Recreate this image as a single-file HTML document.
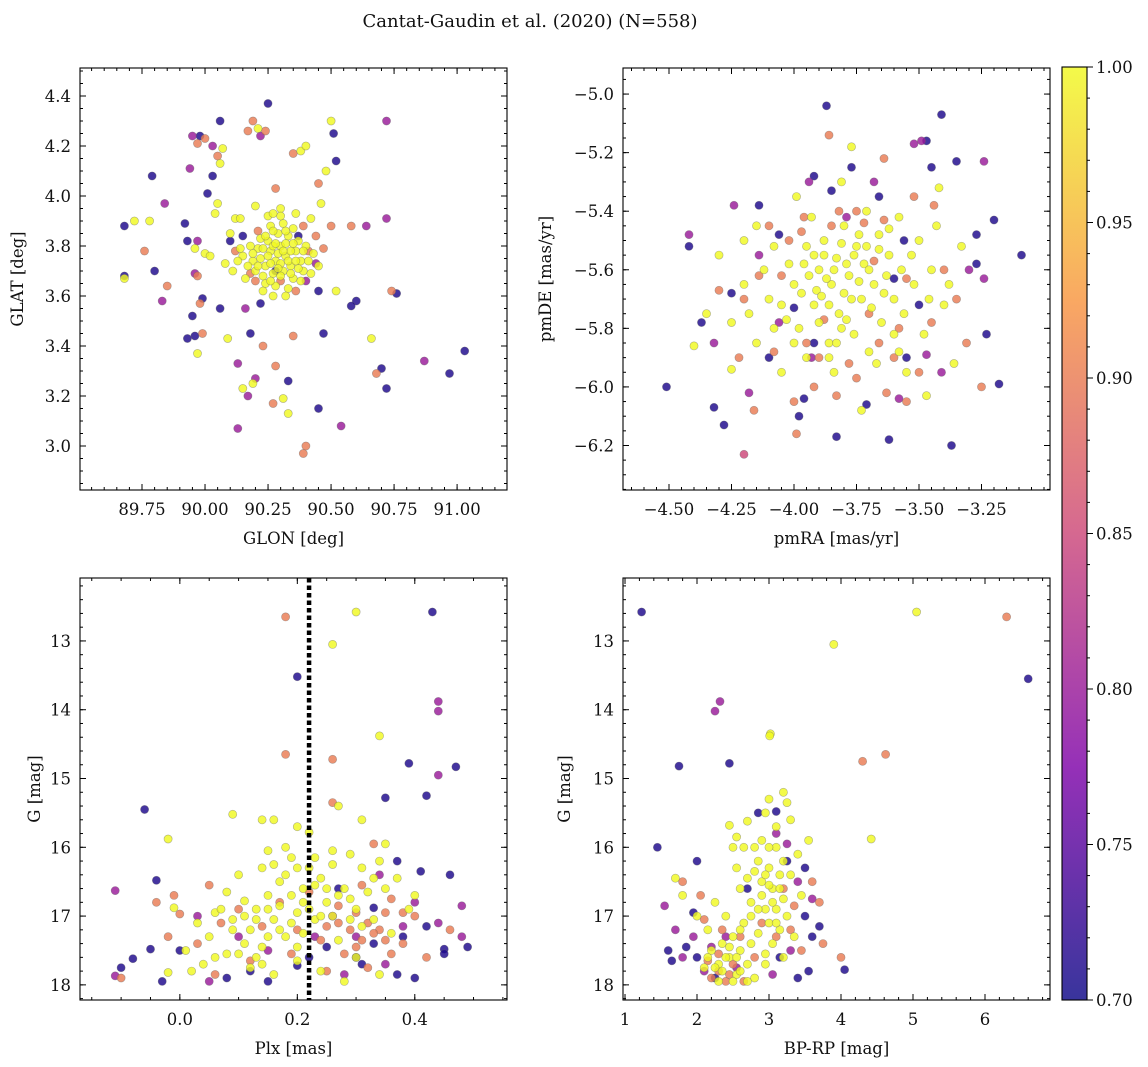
<!DOCTYPE html>
<html><head><meta charset="utf-8"><style>
body{margin:0;background:#fff;}
svg{display:block;font-family:"DejaVu Serif","Liberation Serif",serif;}
</style></head><body>
<svg id="fig" width="1148" height="1067" xmlns="http://www.w3.org/2000/svg">
<rect width="1148" height="1067" fill="#fff"/>
<text x="530" y="27" font-size="18" text-anchor="middle" fill="#111">Cantat-Gaudin et al. (2020) (N=558)</text>
</svg>
<script>
// ---- data: [x, y, membership probability] ----
const glonGlatProb = [
[89.68,3.88,0.71],[89.68,3.68,0.71],[89.79,4.08,0.71],[89.92,3.89,0.71],[89.93,3.82,0.71],[89.95,3.52,0.71],[89.96,3.44,0.71],[89.98,4.24,0.71],[90.06,4.30,0.71],[90.01,4.01,0.71],[90.03,4.08,0.71],[90.25,4.37,0.71],[90.51,4.25,0.71],[90.52,4.14,0.71],[90.60,3.58,0.71],[90.58,3.56,0.71],[90.70,3.31,0.71],[90.72,3.23,0.71],[90.76,3.61,0.71],[90.97,3.29,0.71],[91.03,3.38,0.71],[90.45,3.15,0.71],[90.33,3.26,0.71],[90.47,3.45,0.71],[90.18,3.45,0.71],[90.22,3.57,0.71],[90.15,3.84,0.71],[90.06,3.55,0.71],[89.99,3.59,0.71],[89.93,3.43,0.71],[89.8,3.70,0.71],[90.37,3.84,0.71],[90.45,3.62,0.71],[90.1,3.82,0.71],[90.28,3.70,0.71],
[89.95,4.24,0.8],[89.94,4.11,0.8],[89.84,3.97,0.8],[89.83,3.58,0.8],[89.96,3.69,0.8],[89.97,3.82,0.8],[90.03,4.20,0.8],[90.22,4.24,0.8],[90.13,3.33,0.8],[90.13,3.07,0.8],[90.17,3.20,0.8],[90.2,3.27,0.8],[90.72,4.30,0.8],[90.72,3.91,0.8],[90.87,3.34,0.8],[90.54,3.08,0.8],[90.64,3.88,0.8],[90.44,3.73,0.8],[90.4,3.66,0.8],[90.16,3.55,0.8],
[89.97,4.21,0.9],[90.0,4.23,0.9],[90.05,4.16,0.9],[89.76,3.78,0.9],[89.85,3.64,0.9],[89.97,3.68,0.9],[89.99,3.45,0.9],[89.98,3.57,0.9],[90.17,4.26,0.9],[90.19,4.30,0.9],[90.24,4.26,0.9],[90.28,4.03,0.9],[90.35,4.17,0.9],[90.45,4.05,0.9],[90.5,3.88,0.9],[90.44,3.84,0.9],[90.4,3.0,0.9],[90.39,2.97,0.9],[90.23,3.40,0.9],[90.27,3.17,0.9],[90.35,3.44,0.9],[90.28,3.32,0.9],[90.68,3.29,0.9],[90.74,3.62,0.9],[90.58,3.88,0.9],[90.12,3.78,0.9],[90.36,3.62,0.9],[90.41,3.78,0.9],[90.3,3.66,0.9],[90.2,3.66,0.9],[90.47,3.79,0.9],[90.21,3.86,0.9],[90.39,3.88,0.9],[90.18,3.69,0.9],
[89.68,3.67,1],[89.72,3.90,1],[89.78,3.9,1],[89.96,3.79,1],[89.97,3.37,1],[90.0,3.77,1],[90.02,3.76,1],[90.04,3.93,1],[90.05,3.97,1],[90.06,4.13,1],[90.07,4.19,1],[90.09,3.43,1],[90.1,3.85,1],[90.12,3.91,1],[90.15,3.23,1],[90.19,3.25,1],[90.21,4.27,1],[90.27,3.60,1],[90.31,3.19,1],[90.33,3.13,1],[90.38,4.18,1],[90.4,4.2,1],[90.46,3.97,1],[90.48,4.1,1],[90.5,4.3,1],[90.52,3.62,1],[90.66,3.43,1],[90.14,3.91,1],[90.2,3.96,1],[90.25,3.92,1],[90.3,3.95,1],[90.36,3.93,1],[90.42,3.91,1],
[90.22,3.75,1],[90.24,3.72,1],[90.26,3.78,1],[90.28,3.74,1],[90.30,3.80,1],[90.32,3.76,1],[90.34,3.72,1],[90.36,3.78,1],[90.38,3.74,1],[90.25,3.82,1],[90.29,3.85,1],[90.33,3.84,1],[90.37,3.82,1],[90.23,3.68,1],[90.27,3.69,1],[90.31,3.70,1],[90.35,3.67,1],[90.39,3.70,1],[90.21,3.79,1],[90.19,3.74,1],[90.17,3.72,1],[90.15,3.76,1],[90.13,3.74,1],[90.41,3.74,1],[90.43,3.77,1],[90.26,3.88,1],[90.31,3.89,1],[90.35,3.87,1],[90.28,3.64,1],[90.33,3.63,1],[90.24,3.65,1],[90.20,3.70,1],[90.30,3.73,1],[90.27,3.80,1],[90.32,3.81,1],[90.34,3.78,1],[90.29,3.77,1],[90.25,3.76,1],[90.22,3.83,1],[90.37,3.71,1],[90.4,3.8,1],[90.18,3.8,1],[90.11,3.70,1],[90.08,3.73,1],[90.45,3.72,1],[90.3,3.92,1],[90.27,3.93,1],[90.32,3.60,1],[90.38,3.66,1],[90.16,3.67,1],
[90.23,3.79,1],[90.26,3.73,1],[90.29,3.71,1],[90.31,3.78,1],[90.33,3.74,1],[90.35,3.81,1],[90.28,3.81,1],[90.24,3.84,1],[90.21,3.72,1],[90.36,3.74,1],[90.3,3.68,1],[90.26,3.66,1],[90.34,3.69,1],[90.19,3.77,1],[90.39,3.78,1],[90.32,3.86,1],[90.27,3.86,1],[90.23,3.62,1],[90.42,3.69,1],[90.14,3.79,1]
];
const pmraPmdeProb = [
[-4.78,-5.15,0.71],[-4.51,-6.0,0.71],[-4.42,-5.52,0.71],[-4.37,-5.78,0.71],[-4.32,-6.07,0.71],[-4.28,-6.13,0.71],[-4.14,-5.38,0.71],[-4.06,-5.48,0.71],[-3.98,-6.10,0.71],[-3.96,-6.04,0.71],[-3.92,-5.28,0.71],[-3.92,-5.85,0.71],[-3.87,-5.04,0.71],[-3.83,-6.17,0.71],[-3.77,-5.25,0.71],[-3.71,-6.06,0.71],[-3.62,-6.18,0.71],[-3.60,-5.63,0.71],[-3.55,-5.90,0.71],[-3.47,-5.16,0.71],[-3.45,-5.25,0.71],[-3.41,-5.07,0.71],[-3.37,-6.20,0.71],[-3.35,-5.23,0.71],[-3.27,-5.48,0.71],[-3.20,-5.43,0.71],[-3.18,-5.99,0.71],[-3.09,-5.55,0.71],[-3.23,-5.82,0.71],[-3.27,-5.58,0.71],[-3.56,-5.50,0.71],[-3.66,-5.35,0.71],[-4.1,-5.9,0.71],[-4.25,-5.68,0.71],[-3.85,-5.33,0.71],[-3.5,-5.72,0.71],[-4.0,-5.73,0.71],
[-4.42,-5.48,0.8],[-4.24,-5.38,0.8],[-4.14,-5.55,0.8],[-4.32,-5.85,0.8],[-3.94,-5.30,0.8],[-3.52,-5.17,0.8],[-3.49,-5.16,0.8],[-3.24,-5.23,0.8],[-3.24,-5.63,0.8],[-3.30,-5.60,0.8],[-3.47,-5.89,0.8],[-3.93,-5.9,0.8],[-4.06,-5.78,0.8],[-3.68,-5.3,0.8],[-3.79,-5.42,0.8],[-4.18,-6.02,0.8],[-3.58,-6.04,0.8],[-3.41,-5.95,0.8],
[-4.20,-6.23,0.85],[-3.95,-5.85,0.9],[-3.82,-5.40,0.9],[-3.72,-5.44,0.9],[-3.64,-5.22,0.9],[-3.64,-5.43,0.9],[-3.44,-5.38,0.9],[-3.40,-5.60,0.9],[-3.31,-5.85,0.9],[-3.25,-6.0,0.9],[-4.20,-5.70,0.9],[-4.14,-5.62,0.9],[-4.16,-6.08,0.9],[-4.00,-6.05,0.9],[-3.99,-6.16,0.9],[-3.83,-6.03,0.9],[-3.75,-5.97,0.9],[-3.63,-6.02,0.9],[-3.55,-6.05,0.9],[-3.86,-5.14,0.9],[-3.52,-5.35,0.9],[-3.55,-5.63,0.9],[-4.3,-5.67,0.9],[-3.97,-5.47,0.9],[-3.9,-5.9,0.9],[-3.6,-5.9,0.9],[-3.7,-5.75,0.9],[-4.05,-5.62,0.9],[-3.88,-5.77,0.9],[-3.78,-5.92,0.9],[-3.45,-5.78,0.9],[-4.1,-5.45,0.9],[-3.68,-5.57,0.9],[-3.92,-6.0,0.9],[-4.22,-5.9,0.9],[-3.35,-5.7,0.9],[-4.02,-5.5,0.9],[-3.58,-5.8,0.9],[-3.85,-5.45,0.9],[-3.75,-5.40,0.9],[-3.96,-5.42,0.9],[-3.66,-5.85,0.9],[-4.08,-5.88,0.9],[-3.5,-5.95,0.9],
[-4.40,-5.86,1],[-4.25,-5.94,1],[-4.25,-5.78,1],[-4.3,-5.55,1],[-4.15,-5.45,1],[-4.15,-5.85,1],[-4.05,-5.95,1],[-4.1,-5.70,1],[-4.02,-5.58,1],[-4.0,-5.65,1],[-3.98,-5.80,1],[-3.95,-5.52,1],[-3.92,-5.72,1],[-3.90,-5.60,1],[-3.88,-5.50,1],[-3.86,-5.85,1],[-3.85,-5.65,1],[-3.83,-5.56,1],[-3.82,-5.75,1],[-3.80,-5.45,1],[-3.78,-5.62,1],[-3.76,-5.82,1],[-3.75,-5.52,1],[-3.73,-5.70,1],[-3.72,-5.58,1],[-3.70,-5.88,1],[-3.68,-5.65,1],[-3.66,-5.48,1],[-3.65,-5.78,1],[-3.62,-5.55,1],[-3.60,-5.70,1],[-3.58,-5.42,1],[-3.55,-5.95,1],[-3.52,-5.65,1],[-3.5,-5.5,1],[-3.48,-5.82,1],[-3.45,-5.6,1],[-3.42,-5.32,1],[-3.4,-5.72,1],[-3.36,-5.92,1],[-3.33,-5.52,1],[-3.47,-6.03,1],[-3.73,-6.08,1],[-3.81,-5.3,1],[-3.77,-5.18,1],[-3.84,-5.95,1],[-3.93,-5.42,1],[-4.08,-5.8,1],[-4.12,-5.6,1],[-4.2,-5.5,1],[-3.97,-5.68,1],[-3.87,-5.63,1],[-3.8,-5.68,1],[-3.9,-5.78,1],[-3.7,-5.6,1],[-3.64,-5.68,1],[-3.88,-5.55,1],[-3.94,-5.62,1],[-3.83,-5.85,1],[-3.76,-5.55,1],[-3.6,-5.82,1],[-4.05,-5.72,1],[-4.2,-5.65,1],[-3.53,-5.55,1],[-3.67,-5.92,1],[-3.95,-5.90,1],[-4.35,-5.75,1],[-3.99,-5.35,1],[-3.71,-5.4,1],[-3.57,-5.6,1],[-3.79,-5.77,1],[-3.86,-5.72,1],[-3.74,-5.64,1],[-3.62,-5.46,1],[-3.91,-5.67,1],[-4.0,-5.85,1],[-3.81,-5.51,1],[-3.69,-5.73,1],[-3.43,-5.45,1],[-3.38,-5.65,1],
[-3.84,-5.60,1],[-3.77,-5.70,1],[-3.71,-5.52,1],[-3.89,-5.69,1],[-3.96,-5.58,1],[-3.63,-5.62,1],[-3.81,-5.80,1],[-4.03,-5.77,1],[-3.56,-5.75,1],[-3.66,-5.53,1],[-3.92,-5.55,1],[-3.74,-5.48,1],[-4.18,-5.75,1],[-3.46,-5.70,1],[-3.58,-5.88,1],[-3.86,-5.90,1],[-4.08,-5.52,1],[-3.79,-5.58,1]
];
const plxGmagProb = [
[-0.06,15.45,0.71],[-0.10,17.75,0.71],[-0.08,17.62,0.71],[-0.05,17.48,0.71],[-0.04,16.48,0.71],[-0.03,17.95,0.71],[0.0,17.5,0.71],[0.15,17.95,0.71],[0.2,13.52,0.71],[0.2,17.72,0.71],[0.25,17.45,0.71],[0.3,17.6,0.71],[0.33,16.88,0.71],[0.35,15.28,0.71],[0.37,16.2,0.71],[0.38,17.3,0.71],[0.39,14.78,0.71],[0.41,16.35,0.71],[0.42,15.25,0.71],[0.43,12.58,0.71],[0.45,17.48,0.71],[0.45,17.55,0.71],[0.47,14.83,0.71],[0.46,16.4,0.71],[0.40,17.9,0.71],[0.33,17.4,0.71],[0.27,16.6,0.71],[0.12,17.8,0.71],[0.08,17.9,0.71],[0.37,17.85,0.71],[0.42,17.15,0.71],[0.31,17.7,0.71],[0.22,17.6,0.71],[0.49,17.45,0.71],
[-0.11,16.63,0.8],[-0.11,17.87,0.8],[0.03,17.0,0.8],[0.44,13.88,0.8],[0.44,14.02,0.8],[0.44,14.95,0.8],[0.48,16.85,0.8],[0.48,17.3,0.8],[0.38,17.15,0.8],[0.34,16.4,0.8],[0.44,17.1,0.8],[0.3,17.3,0.8],[0.26,17.0,0.8],[0.15,17.5,0.8],[0.05,17.95,0.8],[0.1,17.3,0.8],[0.35,17.7,0.8],[0.4,16.8,0.8],[0.23,17.3,0.8],[0.28,17.85,0.8],
[-0.1,17.9,0.9],[-0.04,16.8,0.9],[-0.01,16.7,0.9],[0.0,16.97,0.9],[0.05,16.55,0.9],[0.18,12.65,0.9],[0.18,14.65,0.9],[0.26,14.72,0.9],[0.26,15.35,0.9],[0.32,17.1,0.9],[0.29,17.2,0.9],[0.35,16.95,0.9],[0.31,16.55,0.9],[0.33,15.95,0.9],[0.38,17.4,0.9],[0.36,17.55,0.9],[0.27,17.1,0.9],[0.24,17.35,0.9],[0.2,17.2,0.9],[0.14,17.15,0.9],[0.1,16.9,0.9],[0.07,17.1,0.9],[0.03,17.4,0.9],[0.17,16.8,0.9],[0.4,17.0,0.9],[0.42,17.6,0.9],[0.34,17.2,0.9],[0.3,16.95,0.9],[0.28,17.55,0.9],[0.22,16.65,0.9],[0.12,17.65,0.9],[0.06,17.85,0.9],[0.25,17.8,0.9],[0.32,17.75,0.9],[0.36,16.75,0.9],[0.19,17.55,0.9],[0.27,16.85,0.9],[0.31,17.35,0.9],[0.46,17.2,0.9],[-0.02,17.3,0.9],[0.3,17.45,0.9],[0.35,17.35,0.9],[0.25,17.15,0.9],[0.33,17.25,0.9],[0.38,16.95,0.9],
[0.3,12.58,1],[0.26,13.05,1],[0.34,14.38,1],[0.09,15.52,1],[0.14,15.6,1],[0.16,15.6,1],[0.2,15.7,1],[0.22,15.78,1],[0.27,15.4,1],[0.31,15.6,1],[0.35,15.95,1],[-0.02,15.88,1],[-0.01,16.88,1],[0.01,17.5,1],[0.02,17.8,1],[-0.02,17.82,1],[0.05,17.3,1],[0.06,16.95,1],[0.08,16.65,1],[0.09,17.05,1],[0.1,17.55,1],[0.11,16.78,1],[0.12,17.2,1],[0.13,16.9,1],[0.14,17.45,1],[0.15,16.7,1],[0.16,17.05,1],[0.17,16.5,1],[0.18,17.3,1],[0.19,16.15,1],[0.2,16.95,1],[0.21,16.6,1],[0.22,16.3,1],[0.23,17.05,1],[0.24,16.45,1],[0.25,16.8,1],[0.26,16.25,1],[0.27,17.35,1],[0.28,16.6,1],[0.29,16.1,1],[0.30,16.9,1],[0.31,16.3,1],[0.32,16.65,1],[0.33,17.05,1],[0.34,16.2,1],[0.35,16.6,1],[0.36,17.25,1],[0.37,16.45,1],[0.39,16.9,1],[0.12,17.75,1],[0.16,17.85,1],[0.2,17.65,1],[0.24,17.8,1],[0.28,17.95,1],[0.08,17.55,1],[0.04,17.7,1],[0.14,16.3,1],[0.18,16.0,1],[0.23,16.15,1],[0.25,16.6,1],[0.21,17.25,1],[0.15,17.3,1],[0.11,17.0,1],[0.3,17.6,1],[0.34,17.85,1],[0.17,16.85,1],[0.19,17.1,1],[0.26,17.0,1],[0.13,17.6,1],[0.07,16.9,1],[0.22,16.9,1],[0.29,16.75,1],[0.31,17.15,1],[0.1,16.4,1],[0.03,17.1,1],[0.26,16.05,1],[0.33,16.45,1],[0.15,16.05,1],[0.4,16.7,1],[0.2,17.45,1],
[0.13,17.05,1],[0.17,17.2,1],[0.21,16.8,1],[0.24,17.0,1],[0.19,16.7,1],[0.15,16.9,1],[0.11,17.4,1],[0.09,17.2,1],[0.27,16.7,1],[0.23,16.55,1],[0.18,16.4,1],[0.14,17.7,1],[0.2,16.3,1],[0.29,17.05,1],[0.06,17.6,1],[0.16,16.25,1]
];
const bprpGmagProb = [
[1.23,12.58,0.71],[1.45,16.0,0.71],[1.75,14.82,0.71],[2.0,16.2,0.71],[2.45,14.78,0.71],[2.85,15.5,0.71],[3.1,15.48,0.71],[3.25,16.2,0.71],[3.5,16.3,0.71],[3.6,17.3,0.71],[3.7,17.15,0.71],[3.55,17.8,0.71],[4.05,17.78,0.71],[6.6,13.55,0.71],[1.6,17.5,0.71],[1.65,17.65,0.71],[1.85,17.45,0.71],[2.0,17.6,0.71],[2.7,16.6,0.71],[3.4,17.9,0.71],[3.15,17.6,0.71],[2.25,17.9,0.71],[1.95,16.95,0.71],[3.5,17.0,0.71],
[2.32,13.88,0.8],[2.25,14.02,0.8],[1.55,16.85,0.8],[1.7,17.2,0.8],[1.8,17.6,0.8],[3.1,15.8,0.8],[3.25,15.95,0.8],[3.4,16.5,0.8],[3.6,16.75,0.8],[2.1,17.8,0.8],[2.2,17.45,0.8],[2.4,17.3,0.8],[2.55,17.75,0.8],[3.05,17.85,0.8],[3.3,17.5,0.8],[1.95,17.3,0.8],
[4.3,14.75,0.9],[4.62,14.65,0.9],[6.3,12.65,0.9],[4.0,17.6,0.9],[3.6,16.5,0.9],[3.7,16.8,0.9],[3.75,17.4,0.9],[2.1,17.05,0.9],[2.3,17.55,0.9],[2.5,17.7,0.9],[2.65,17.95,0.9],[2.2,17.9,0.9],[2.4,17.95,0.9],[2.8,17.6,0.9],[3.3,17.2,0.9],[3.45,17.5,0.9],[2.05,16.7,0.9],[3.2,16.6,0.9],[3.1,17.3,0.9],[1.8,16.5,0.9],[2.6,17.3,0.9],[2.35,17.2,0.9],[2.9,17.1,0.9],[3.35,16.85,0.9],[2.45,17.85,0.9],[2.15,17.65,0.9],[2.3,17.8,0.9],
[5.05,12.58,1],[3.9,13.05,1],[3.02,14.35,1],[3.01,14.38,1],[4.42,15.88,1],[2.45,15.68,1],[2.55,15.85,1],[2.7,15.62,1],[2.95,15.5,1],[3.2,15.2,1],[3.25,15.35,1],[3.3,15.6,1],[1.7,16.45,1],[1.8,16.7,1],[2.0,17.0,1],[2.15,17.2,1],[2.2,17.5,1],[2.3,17.7,1],[2.35,17.4,1],[2.45,17.6,1],[2.5,17.3,1],[2.55,17.85,1],[2.6,17.5,1],[2.65,17.1,1],[2.7,17.7,1],[2.75,17.4,1],[2.8,17.9,1],[2.5,16.0,1],[2.55,16.3,1],[2.6,16.6,1],[2.7,16.45,1],[2.75,16.8,1],[2.85,16.2,1],[2.9,16.5,1],[2.95,16.9,1],[3.0,16.3,1],[3.0,17.1,1],[3.05,16.6,1],[3.05,17.4,1],[3.1,16.0,1],[3.1,16.9,1],[3.15,16.4,1],[3.15,17.2,1],[3.2,16.75,1],[3.25,17.0,1],[3.3,16.4,1],[3.35,17.3,1],[3.4,16.1,1],[2.85,17.25,1],[2.95,17.55,1],[2.4,17.0,1],[2.3,17.95,1],[2.1,17.75,1],[2.25,16.8,1],[2.9,15.9,1],[3.45,16.7,1],[3.55,15.9,1],[2.65,16.0,1],[2.6,17.8,1],[2.15,17.6,1],[3.0,16.0,1],[3.1,15.7,1],[2.95,17.7,1],[3.2,17.6,1],[2.35,17.8,1],[2.5,17.95,1],[2.75,17.0,1],[3.0,15.3,1],[2.8,16.0,1],
[2.9,16.7,1],[3.05,16.8,1],[2.95,16.4,1],[3.15,16.6,1],[2.85,16.9,1],[3.0,16.55,1],[2.4,17.6,1],[2.25,17.75,1],[2.55,17.6,1],[2.7,17.95,1],[2.6,17.2,1],[2.45,17.45,1],[3.2,16.2,1],[2.8,16.35,1],[3.1,17.1,1]
];
const plxCut = 0.22;
const cbarTicks = [0.70,0.75,0.80,0.85,0.90,0.95,1.00];

const NS='http://www.w3.org/2000/svg';
const fig=document.getElementById('fig');
function mk(tag,attrs,parent){const e=document.createElementNS(NS,tag);for(const k in attrs)e.setAttribute(k,attrs[k]);(parent||fig).appendChild(e);return e;}
const stops=[[0,[13,8,135]],[0.25,[126,3,168]],[0.5,[204,71,120]],[0.75,[248,149,64]],[1,[240,249,33]]];
function plasma(t){t=Math.max(0,Math.min(1,t));for(let i=1;i<stops.length;i++){if(t<=stops[i][0]){const a=stops[i-1],b=stops[i];const f=(t-a[0])/(b[0]-a[0]);const c=a[1].map((v,j)=>Math.round(v+(b[1][j]-v)*f));return 'rgb('+c.join(',')+')';}}return 'rgb(240,249,33)';}
function pcol(p){return plasma((p-0.7)/0.3);}

function panel(cfg){
  const {name,x0,x1,y0,y1,xmin,xmax,ymin,ymax,xt,yt,xminor,yminor,xlab,ylab,data,xdec,ydec,ylx}=cfg;
  const g=mk('g',{}, fig);
  
  
  const sx=v=>x0+(v-xmin)/(xmax-xmin)*(x1-x0);
  const sy=v=>y1-(v-ymin)/(ymax-ymin)*(y1-y0);
  const clip='clip-'+name;
  const cp=mk('clipPath',{id:clip},g);mk('rect',{x:x0,y:y0,width:x1-x0,height:y1-y0},cp);
  const pts=mk('g',{'clip-path':'url(#'+clip+')'},g);
  const sorted=data.slice().sort((a,b)=>a[2]-b[2]);
  sorted.forEach(d=>{
    const c=mk('circle',{cx:sx(d[0]).toFixed(1),cy:sy(d[1]).toFixed(1),r:4.1,fill:pcol(d[2]),'fill-opacity':0.82,stroke:'#666','stroke-opacity':0.5,'stroke-width':0.6},pts);
    
    
  });
  if(cfg.vline!==undefined){
    const l=mk('line',{x1:sx(cfg.vline),x2:sx(cfg.vline),y1:y0,y2:y1,stroke:'#000','stroke-width':4.5,'stroke-dasharray':'4.5,3'},g);
    
    
  }
  const frame=mk('rect',{x:x0,y:y0,width:x1-x0,height:y1-y0,fill:'none',stroke:'#000','stroke-width':1.1},g);
  
  
  const lo=Math.min(xmin,xmax),hi=Math.max(xmin,xmax);
  for(let v=Math.ceil(lo/xminor)*xminor;v<=hi;v+=xminor){const X=sx(v);mk('line',{x1:X,x2:X,y1:y1,y2:y1-3,stroke:'#000'},g);mk('line',{x1:X,x2:X,y1:y0,y2:y0+3,stroke:'#000'},g);}
  const ylo=Math.min(ymin,ymax),yhi=Math.max(ymin,ymax);
  for(let v=Math.ceil(ylo/yminor)*yminor;v<=yhi;v+=yminor){const Y=sy(v);mk('line',{x1:x0,x2:x0+3,y1:Y,y2:Y,stroke:'#000'},g);mk('line',{x1:x1,x2:x1-3,y1:Y,y2:Y,stroke:'#000'},g);}
  xt.forEach(v=>{const X=sx(v);mk('line',{x1:X,x2:X,y1:y1,y2:y1-6,stroke:'#000'},g);mk('line',{x1:X,x2:X,y1:y0,y2:y0+6,stroke:'#000'},g);
    const t=mk('text',{x:X,y:y1+25,'font-size':16.5,'text-anchor':'middle',fill:'#111'},g);t.textContent=v.toFixed(xdec).replace('-','−');
    });
  yt.forEach(v=>{const Y=sy(v);mk('line',{x1:x0,x2:x0+6,y1:Y,y2:Y,stroke:'#000'},g);mk('line',{x1:x1,x2:x1-6,y1:Y,y2:Y,stroke:'#000'},g);
    const t=mk('text',{x:x0-9,y:Y+6,'font-size':16.5,'text-anchor':'end',fill:'#111'},g);t.textContent=v.toFixed(ydec).replace('-','−');
    });
  const xl=mk('text',{x:(x0+x1)/2,y:y1+54,'font-size':16.5,'text-anchor':'middle',fill:'#111'},g);xl.textContent=xlab;
  
  const yc=(y0+y1)/2;
  const yl=mk('text',{x:ylx,y:yc,'font-size':16.5,'text-anchor':'middle',fill:'#111',transform:'rotate(-90 '+ylx+' '+yc+')'},g);yl.textContent=ylab;
  
}
panel({name:'glon-glat-panel',x0:80,x1:507,y0:68,y1:490,xmin:89.504,xmax:91.198,ymin:2.824,ymax:4.512,xt:[89.75,90,90.25,90.5,90.75,91],yt:[3.0,3.2,3.4,3.6,3.8,4.0,4.2,4.4],xminor:0.05,yminor:0.05,xdec:2,ydec:1,xlab:'GLON [deg]',ylab:'GLAT [deg]',data:glonGlatProb,ylx:23});
panel({name:'pm-panel',x0:623,x1:1050,y0:68,y1:490,xmin:-4.684,xmax:-2.976,ymin:-6.352,ymax:-4.911,xt:[-4.5,-4.25,-4,-3.75,-3.5,-3.25],yt:[-6.2,-6.0,-5.8,-5.6,-5.4,-5.2,-5.0],xminor:0.05,yminor:0.05,xdec:2,ydec:1,xlab:'pmRA [mas/yr]',ylab:'pmDE [mas/yr]',data:pmraPmdeProb,ylx:551});
panel({name:'plx-g-panel',x0:80,x1:507,y0:578,y1:1000,xmin:-0.170,xmax:0.557,ymin:18.22,ymax:12.085,xt:[0,0.2,0.4],yt:[13,14,15,16,17,18],xminor:0.05,yminor:0.2,xdec:1,ydec:0,xlab:'Plx [mas]',ylab:'G [mag]',data:plxGmagProb,vline:plxCut,ylx:40});
panel({name:'cmd-panel',x0:623,x1:1050,y0:578,y1:1000,xmin:0.972,xmax:6.903,ymin:18.22,ymax:12.085,xt:[1,2,3,4,5,6],yt:[13,14,15,16,17,18],xminor:0.2,yminor:0.2,xdec:0,ydec:0,xlab:'BP-RP [mag]',ylab:'G [mag]',data:bprpGmagProb,ylx:570});

const cb=mk('g',{});


const defs=mk('defs',{},cb);const lg=mk('linearGradient',{id:'cbg',x1:0,y1:1,x2:0,y2:0},defs);
for(let i=0;i<=20;i++){mk('stop',{offset:i/20,'stop-color':plasma(i/20),'stop-opacity':0.82},lg);}
const cx0=1062,cx1=1087,cy0=67,cy1=1000;
mk('rect',{x:cx0,y:cy0,width:cx1-cx0,height:cy1-cy0,fill:'url(#cbg)',stroke:'#000','stroke-width':1.1},cb);
const cby=v=>cy1-(v-0.7)/0.3*(cy1-cy0);
for(let v=0.70;v<=1.0001;v+=0.01){const Y=cby(v);mk('line',{x1:cx1,x2:cx1+3,y1:Y,y2:Y,stroke:'#000'},cb);}
cbarTicks.forEach(v=>{const Y=cby(v);mk('line',{x1:cx1,x2:cx1+6,y1:Y,y2:Y,stroke:'#000'},cb);
  const t=mk('text',{x:cx1+9,y:Y+6,'font-size':16.5,fill:'#111'},cb);t.textContent=v.toFixed(2);
  });
</script>
</body></html>
